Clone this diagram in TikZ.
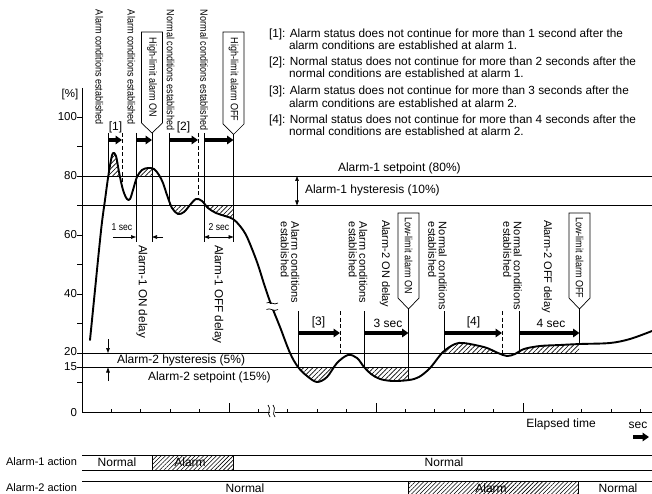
\documentclass[tikz,border=0pt]{standalone}
\usepackage{fontspec}
\setmainfont{Liberation Sans}
\usepackage{graphicx}
\usetikzlibrary{arrows.meta,patterns.meta}
\newcommand{\alarmtag}[5]{% cx, top, shoulder, tip, name
  \draw[thinl, fill=white] (#1-10.5,#2) -- (#1+10.5,#2) -- (#1+10.5,#3) -- (#1,#4) -- (#1-10.5,#3) -- cycle;
  \coordinate (#5) at (#1,#4);}
\newcommand{\nw}[1]{\scalebox{0.86}[1]{#1}}
\begin{document}
\begin{tikzpicture}[x=1pt,y=-1pt,
  every node/.style={inner sep=0pt, outer sep=0pt},
  thinl/.style={line width=0.7pt},
  refl/.style={line width=0.8pt},
  dashl/.style={line width=0.7pt, dash pattern=on 4pt off 2.5pt},
  crv/.style={line width=1.9pt, line join=round, line cap=round},
  bigarr/.style={line width=3.2pt, -{Triangle[length=6.5pt,width=8.5pt]}},
  dimarr/.style={line width=0.6pt, -{Triangle[length=5pt,width=3.6pt]}},
  dimarrb/.style={line width=0.6pt, {Triangle[length=5pt,width=3.6pt]}-{Triangle[length=5pt,width=3.6pt]}},
  hatch/.style={pattern={Lines[angle=45,distance=3.3pt,line width=0.65pt]}},
  barhatch/.style={pattern={Lines[angle=45,distance=3pt,line width=0.6pt]}},
  lbl/.style={font=\fontsize{12}{12}\selectfont},
  note/.style={font=\fontsize{11.8}{12}\selectfont, anchor=base west},
  vtxt/.style={rotate=-90, anchor=west, align=left, font=\fontsize{11}{10.5}\selectfont},
  vbig/.style={rotate=-90, anchor=west, font=\fontsize{11.7}{12}\selectfont},
  ntxt/.style={rotate=-90, anchor=west, font=\fontsize{10.5}{12}\selectfont},
  ticklbl/.style={anchor=east, font=\fontsize{11.5}{12}\selectfont},
  small/.style={font=\fontsize{10}{12}\selectfont},
]
\useasboundingbox (0,0) rectangle (652,494);
\def\crv{plot[smooth,tension=0.55] coordinates {(90,340) (95,290) (99,250) (102,222) (105,200) (108,178) (111,160) (113,153) (116,156) (119,172) (123,190) (127,199) (130,199) (133,190) (137,177) (142,170) (148,168) (154,169) (159,175) (163,183) (167,195) (172,208) (178,214) (184,212) (190,205) (196,199) (202,201) (208,208) (216,213) (225,216) (233,219) (240,226) (247,237) (257,262) (265,287) (272,307) (280,327) (290,353) (298,367) (307,376) (317,382) (327,377) (337,363) (348,355) (357,358) (364,367) (371,374) (380,379) (393,381) (409,380) (419,377) (430,368) (443,352) (455,344) (463,343) (475,345) (487,348) (498,353) (507,356) (515,354) (524,349) (540,346) (560,345) (580,344) (610,343) (630,339) (652,331)}}
% ---------- hatches above line
\foreach \xa/\xb/\ly in {100/130/176, 130/152/176, 444/505/353, 519/579/353}{
  \begin{scope}
    \clip (\xa,0) rectangle (\xb,\ly);
    \clip \crv -- (652,500) -- (90,500) -- cycle;
    \path[hatch] (\xa,0) rectangle (\xb,\ly);
  \end{scope}}
% ---------- hatches below line
\foreach \xa/\xb/\ly in {160/194/205.5, 200/233/205.5, 290/345/367.5, 364/409/367.5}{
  \begin{scope}
    \clip (\xa,\ly) rectangle (\xb,500);
    \clip \crv -- (652,0) -- (90,0) -- cycle;
    \path[hatch] (\xa,\ly) rectangle (\xb,500);
  \end{scope}}
% ---------- axes
\coordinate (ytop) at (82,88);
\coordinate (org) at (82,412);
\coordinate (xend) at (652,412);
\draw[thinl] (ytop) -- (org) -- (xend);
\foreach \v in {100,90,80,70,60,50,40,30,20,15,10}{
  \draw[thinl] (77,{412-2.95*\v}) -- (82,{412-2.95*\v});}
\foreach \k in {1,...,19}{
  \draw[thinl] ({82+29.4*\k},412) -- ({82+29.4*\k},409);}
\foreach \k in {5,10,15}{
  \draw[thinl] ({82+29.4*\k},412) -- ({82+29.4*\k},403);}
% axis break
\fill[white] (269.5,405) rectangle (275,418);
\draw[thinl] (268,405) .. controls (272,409) and (266,413) .. (270,417);
\draw[thinl] (273,405) .. controls (277,409) and (271,413) .. (275,417);
% tick labels
\node[anchor=center, font=\fontsize{11.5}{12}\selectfont] (pct) at (70,95) {[\%]};
\node[ticklbl] (l100) at (77,117) {100};
\node[ticklbl] (l80) at (77,176) {80};
\node[ticklbl] (l60) at (77,235) {60};
\node[ticklbl] (l40) at (77,294) {40};
\node[ticklbl] (l20) at (77,352) {20};
\node[ticklbl] (l15) at (77,367) {15};
\node[ticklbl] (l0) at (77,413) {0};
% ---------- reference lines
\coordinate (s80a) at (82,176);  \coordinate (s80b) at (652,176);
\coordinate (s70a) at (82,205.5);\coordinate (s70b) at (652,205.5);
\coordinate (s20a) at (82,353);  \coordinate (s20b) at (652,353);
\coordinate (s15a) at (82,367.5);\coordinate (s15b) at (652,367.5);
\draw[refl] (s80a) -- (s80b);
\draw[refl] (s70a) -- (s70b);
\draw[refl] (s20a) -- (s20b);
\draw[refl] (s15a) -- (s15b);
\node[lbl, anchor=west] (a1sp) at (338,168) {Alarm-1 setpoint (80\%)};
\node[lbl, anchor=west] (a1hy) at (305,190.5) {Alarm-1 hysteresis (10\%)};
\draw[dimarrb] (297,176) -- (297,205.5);
\node[lbl, anchor=west] (a2hy) at (117,360.5) {Alarm-2 hysteresis (5\%)};
\node[lbl, anchor=west] (a2sp) at (148,377) {Alarm-2 setpoint (15\%)};
\draw[dimarr] (108,339) -- (108,353);
\draw[dimarr] (108,381) -- (108,367.5);
% ---------- curve
\draw[crv] \crv;
% curve break
\fill[white] (267,303.5) rectangle (278,309.5);
\draw[thinl] (266.5,303) .. controls (270,300.5) and (274,306) .. (278,303);
\draw[thinl] (266.5,309.5) .. controls (270,307) and (274,312.5) .. (278,309.5);
% ---------- top vertical texts
\node[ntxt] (t1) at (99.5,10) {\nw{Alarm conditions established}};
\node[ntxt] (t2) at (131.5,10) {\nw{Alarm conditions established}};
\node[ntxt] (t3) at (170.5,10) {\nw{Normal conditions established}};
\node[ntxt] (t4) at (204,10) {\nw{Normal conditions established}};
\alarmtag{152}{32}{123}{133}{hon}
\node[ntxt] (honl) at (152,38) {\nw{High-limit alarm ON}};
\alarmtag{233.5}{32}{124}{134.5}{hoff}
\node[ntxt] (hoffl) at (233.5,38) {\nw{High-limit alarm OFF}};
% top vertical lines
\coordinate (v1t) at (108,133);   \coordinate (v1b) at (108,177);
\coordinate (d1t) at (122,133);   \coordinate (d1b) at (122,190);
\coordinate (v2t) at (136,133);   \coordinate (v2b) at (136,242);
\coordinate (honb) at (152,242);
\coordinate (v4t) at (169,133);   \coordinate (v4b) at (169,206);
\coordinate (d2t) at (198,133);   \coordinate (d2b) at (198,199);
\coordinate (v5t) at (204,133);   \coordinate (v5b) at (204,242);
\coordinate (hoffb) at (233.5,242);
\draw[thinl] (v1t) -- (v1b);
\draw[dashl] (d1t) -- (d1b);
\draw[thinl] (v2t) -- (v2b);
\draw[thinl] (hon) -- (honb);
\draw[thinl] (v4t) -- (v4b);
\draw[dashl] (d2t) -- (d2b);
\draw[thinl] (v5t) -- (v5b);
\draw[thinl] (hoff) -- (hoffb);
% top thick arrows
\draw[bigarr] (108,140) -- (122,140);
\draw[bigarr] (136,140) -- (152,140);
\draw[bigarr] (169,140) -- (198,140);
\draw[bigarr] (204,140) -- (233.5,140);
\node[lbl] (b1) at (115.5,127) {[1]};
\node[lbl] (b2) at (183.5,127) {[2]};
% delays
\draw[dimarr] (113,237) -- (136,237);
\draw[dimarr] (163,237) -- (152,237);
\node[small] (s1) at (122,227) {\nw{1 sec}};
\draw[dimarrb] (204,237) -- (233.5,237);
\node[small] (s2) at (219,227) {\nw{2 sec}};
\node[vbig] (don1) at (142,245) {Alarm-1 ON delay};
\node[vbig] (doff1) at (218,245) {Alarm-1 OFF delay};
% ---------- lower vertical texts
\node[vtxt] (r1) at (290,222) {Alarm conditions\\established};
\node[vtxt] (r2) at (358,222) {Alarm conditions\\established};
\node[vtxt] (r3) at (385,220) {Alarm-2 ON delay};
\node[vtxt] (r4) at (437.5,222) {Normal conditions\\established};
\node[vtxt] (r5) at (512.5,222) {Normal conditions\\established};
\node[vtxt] (r6) at (547,220) {Alarm-2 OFF delay};
\alarmtag{408.5}{213}{298}{309}{lon}
\node[ntxt] (lonl) at (408.5,217) {\nw{Low-limit alarm ON}};
\alarmtag{579.5}{213}{298}{309}{loff}
\node[ntxt] (loffl) at (579.5,217) {\nw{Low-limit alarm OFF}};
\coordinate (w1t) at (298,311);  \coordinate (w1b) at (298,367);
\coordinate (e1t) at (340,311);  \coordinate (e1b) at (340,355);
\coordinate (w2t) at (364,311);  \coordinate (w2b) at (364,367);
\coordinate (lonb) at (408.5,380);
\coordinate (w4t) at (444,311);  \coordinate (w4b) at (444,352);
\coordinate (e2t) at (502,311);  \coordinate (e2b) at (502,356);
\coordinate (w5t) at (519,311);  \coordinate (w5b) at (519,351);
\coordinate (loffb) at (579.5,344);
\draw[thinl] (w1t) -- (w1b);
\draw[dashl] (e1t) -- (e1b);
\draw[thinl] (w2t) -- (w2b);
\draw[thinl] (lon) -- (lonb);
\draw[thinl] (w4t) -- (w4b);
\draw[dashl] (e2t) -- (e2b);
\draw[thinl] (w5t) -- (w5b);
\draw[thinl] (loff) -- (loffb);
\draw[bigarr] (298,333) -- (340,333);
\draw[bigarr] (364,333) -- (408.5,333);
\draw[bigarr] (444,333) -- (502,333);
\draw[bigarr] (519,333) -- (579.5,333);
\node[lbl] (b3) at (318.5,322) {[3]};
\node[lbl] (s3) at (388,323.5) {3 sec};
\node[lbl] (b4) at (473.5,322) {[4]};
\node[lbl] (s4) at (551,323.5) {4 sec};
% ---------- notes
\node[note] (n1) at (269,37.5) {[1]: Alarm status does not continue for more than 1 second after the};
\node[note] (n1b) at (289,50) {alarm conditions are established at alarm 1.};
\node[note] (n2) at (269,66) {[2]: Normal status does not continue for more than 2 seconds after the};
\node[note] (n2b) at (289,78) {normal conditions are established at alarm 1.};
\node[note] (n3) at (269,95) {[3]: Alarm status does not continue for more than 3 seconds after the};
\node[note] (n3b) at (289,107.5) {alarm conditions are established at alarm 2.};
\node[note] (n4) at (269,123.5) {[4]: Normal status does not continue for more than 4 seconds after the};
\node[note] (n4b) at (289,136) {normal conditions are established at alarm 2.};
% ---------- elapsed time
\node[lbl] (el) at (561,424) {Elapsed time};
\node[lbl] (sec) at (638,425) {sec};
\coordinate (sa) at (633,437); \coordinate (sb) at (649,437);
\draw[bigarr] (sa) -- (sb);
% ---------- action rows
\draw[thinl] (82,455) -- (652,455);
\draw[thinl] (82,470) -- (652,470);
\path[barhatch] (152,455) rectangle (233.5,470);
\draw[thinl] (152,455) -- (152,470);
\draw[thinl] (233.5,455) -- (233.5,470);
\draw[thinl] (82,481) -- (652,481);
\path[barhatch] (408.5,481) rectangle (578,495);
\draw[thinl] (408.5,481) -- (408.5,495);
\draw[thinl] (578,481) -- (578,495);
\node[anchor=east, font=\fontsize{11}{12}\selectfont] (ra1) at (77,462) {Alarm-1 action};
\node[anchor=east, font=\fontsize{11}{12}\selectfont] (ra2) at (77,488) {Alarm-2 action};
\node[lbl] (n1a) at (117,462) {Normal};
\node[lbl] (a1a) at (190,462) {Alarm};
\node[lbl] (n1c) at (444,462) {Normal};
\node[lbl] (n2a) at (245,488) {Normal};
\node[lbl] (a2a) at (491,488) {Alarm};
\node[lbl] (n2c) at (618,488) {Normal};
\end{tikzpicture}
\end{document}
